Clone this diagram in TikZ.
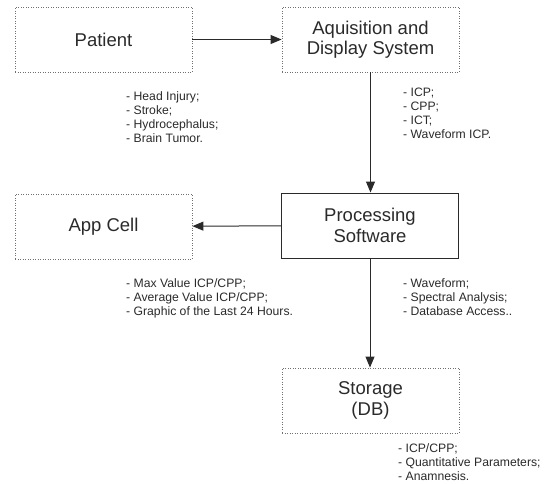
\documentclass[tikz,border=0pt]{standalone}
\usepackage{fontspec}
\setmainfont{Liberation Sans}
\usetikzlibrary{arrows.meta}
\definecolor{ink}{HTML}{2A2A2A}
\definecolor{dotc}{HTML}{707070}
\tikzset{
  dotbox/.style={draw=dotc, line width=0.9pt, dash pattern=on 0.9pt off 1.6pt,
    minimum width=177pt, minimum height=65pt, inner sep=0pt, align=center,
    font=\fontsize{18.5}{20.5}\selectfont, text=ink},
  solidbox/.style={dotbox, draw=ink, solid, line width=1pt},
  conn/.style={draw=ink, line width=1pt, -{Triangle[length=11pt,width=9pt]}},
  listtxt/.style={anchor=north west, inner sep=0pt, align=left,
    font=\fontsize{12.2}{14}\selectfont, text=ink}
}
\begin{document}
\begin{tikzpicture}[x=1pt,y=-1pt]
\useasboundingbox (0,0) rectangle (551,483);
\node[dotbox] (patient) at (103.5,39.5) {Patient};
\node[dotbox] (acq) at (370.5,39.5) {Aquisition and\\Display System};
\node[dotbox] (app) at (103.5,226.5) {App Cell};
\node[solidbox] (proc) at (370,225.5) {Processing\\Software};
\node[dotbox] (store) at (370.5,400.5) {Storage\\(DB)};
\draw[conn] (patient) -- (acq);
\draw[conn] (acq.south) -- (acq.south |- proc.north);
\draw[conn] (proc) -- (app);
\draw[conn] (proc.south) -- (proc.south |- store.north);
\node[listtxt] (l1) at (126,91) {- Head Injury;\\- Stroke;\\- Hydrocephalus;\\- Brain Tumor.};
\node[listtxt] (l2) at (403,88) {- ICP;\\- CPP;\\- ICT;\\- Waveform ICP.};
\node[listtxt] (l3) at (126,278) {- Max Value ICP/CPP;\\- Average Value ICP/CPP;\\- Graphic of the Last 24 Hours.};
\node[listtxt] (l4) at (403,278) {- Waveform;\\- Spectral Analysis;\\- Database Access..};
\node[listtxt] (l5) at (398,443) {- ICP/CPP;\\- Quantitative Parameters;\\- Anamnesis.};
\end{tikzpicture}
\end{document}
